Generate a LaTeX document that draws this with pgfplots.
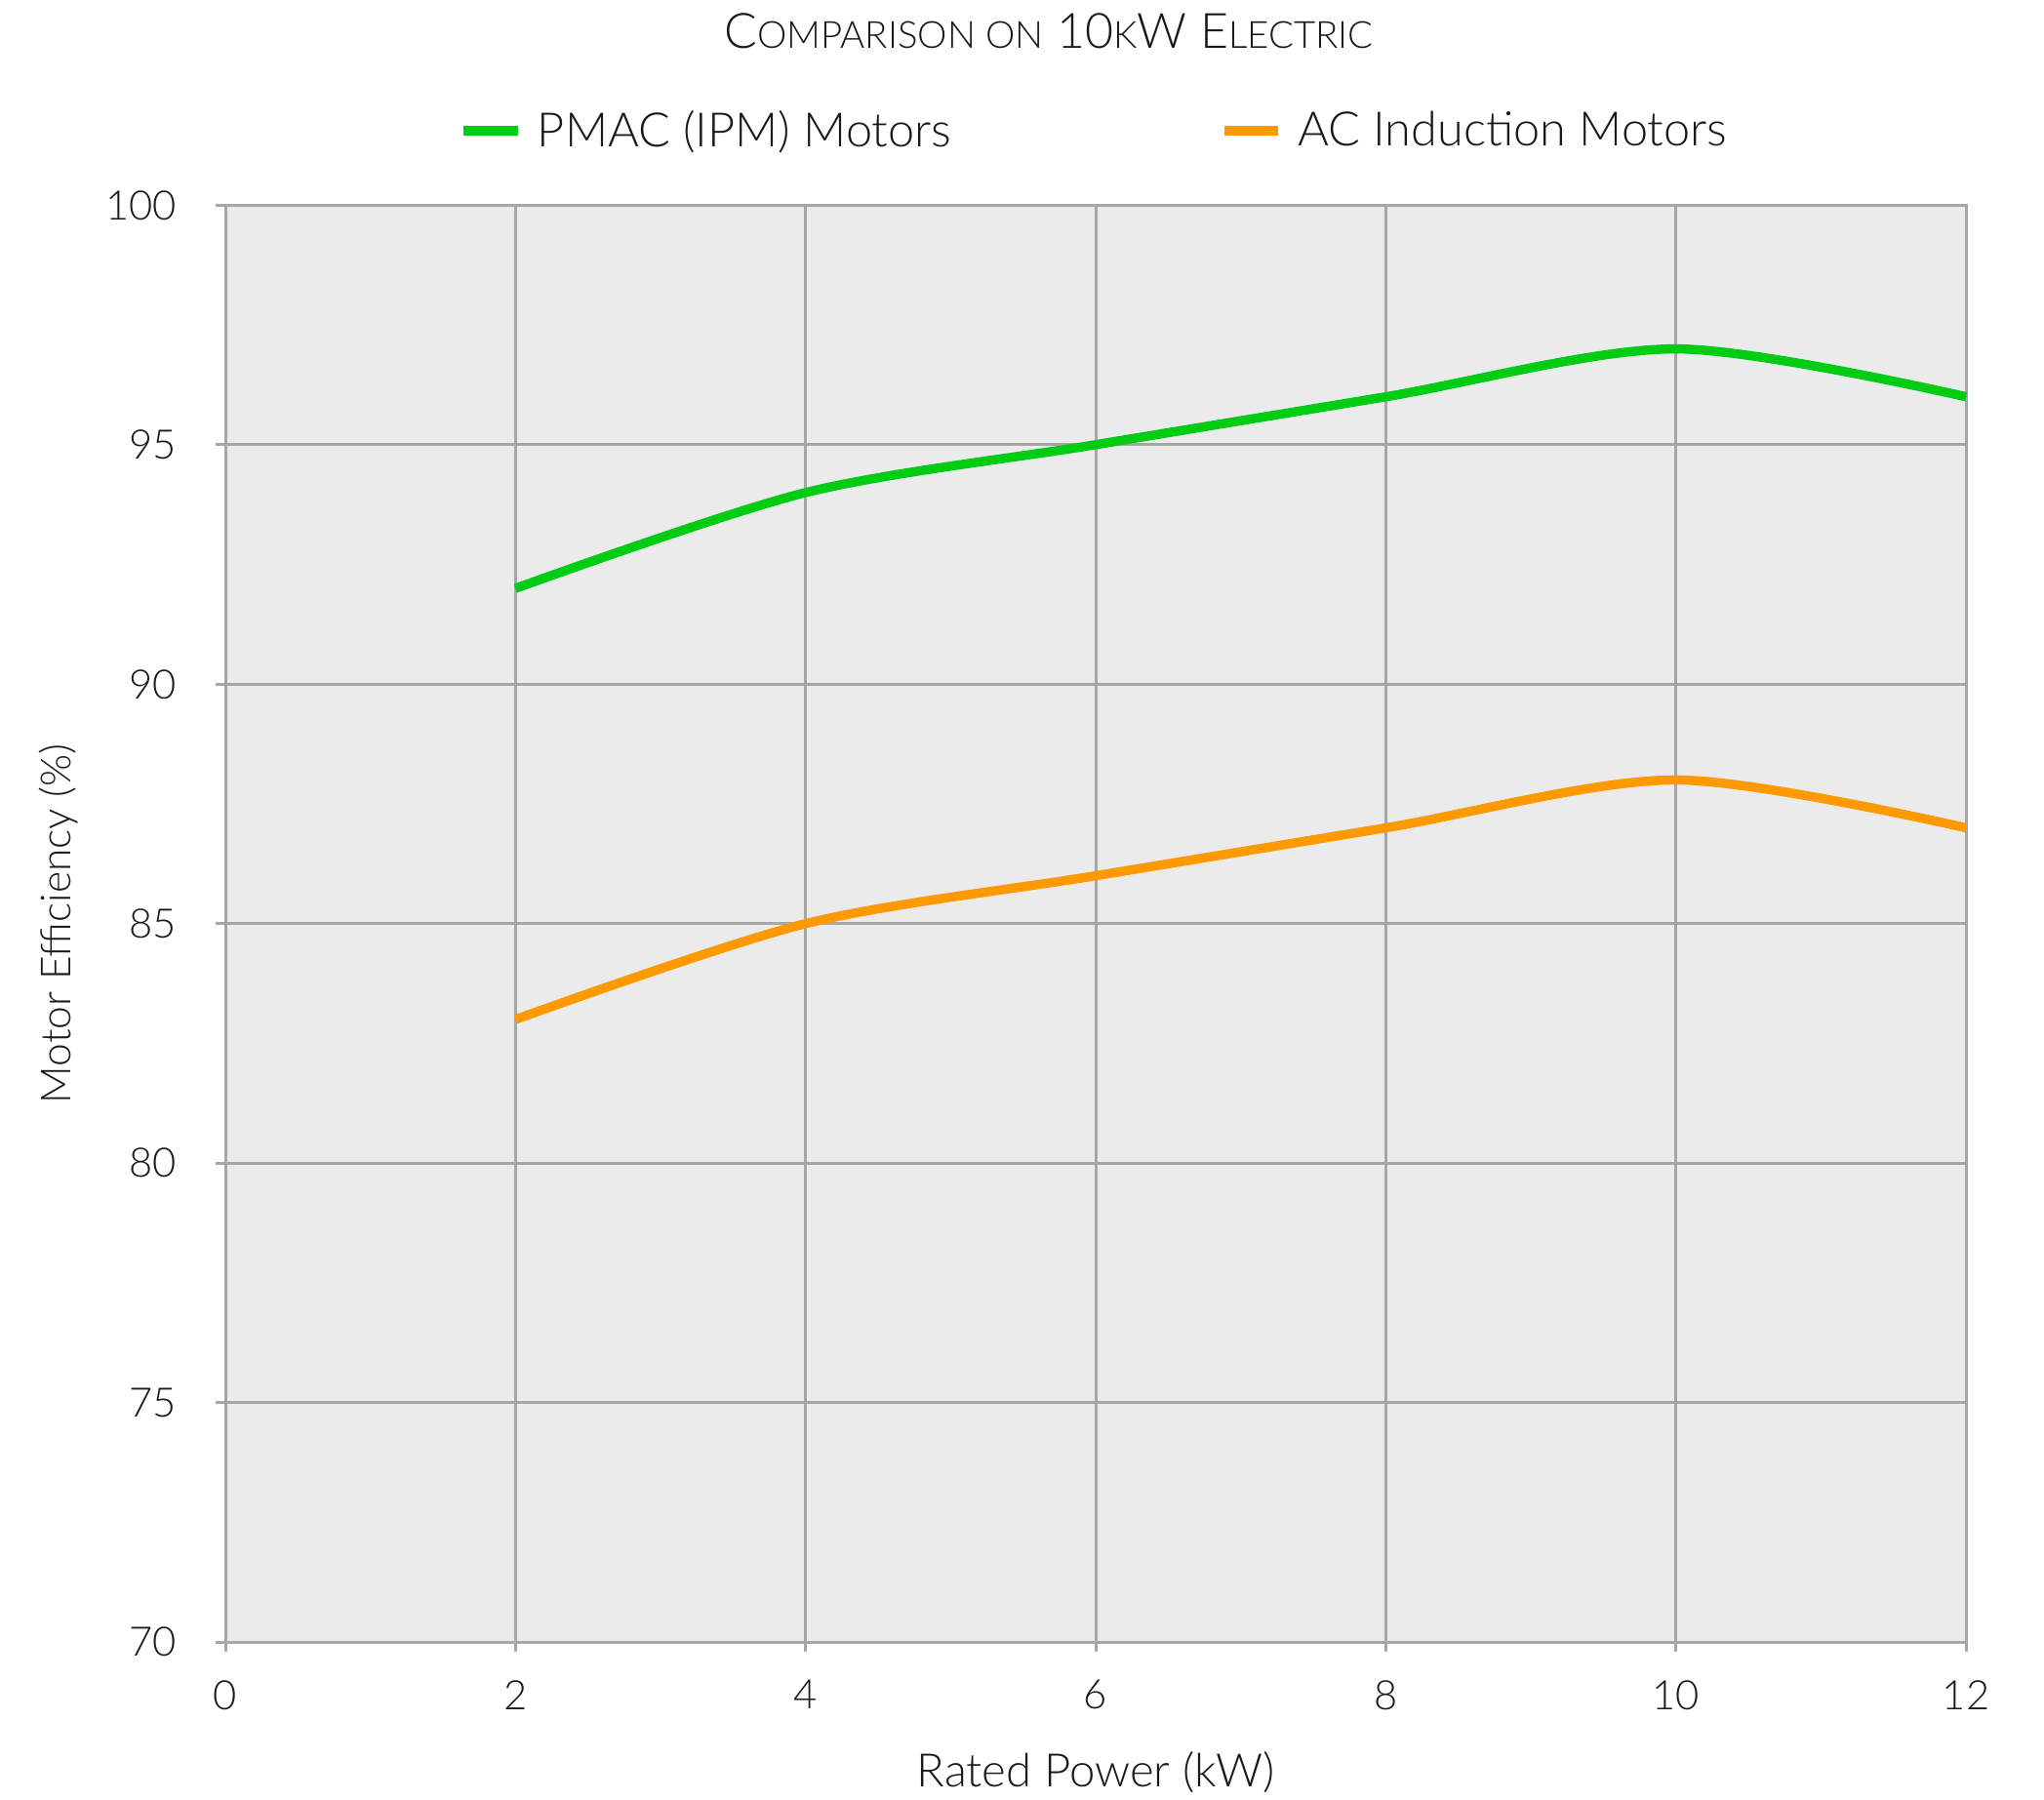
\documentclass[border=0pt]{standalone}
\usepackage{fontspec}
\setmainfont{Lato}[UprightFont=* Light]
\usepackage{pgfplots}
\pgfplotsset{compat=1.18}
\definecolor{pmac}{RGB}{0,204,20}
\definecolor{acind}{RGB}{255,153,0}
\definecolor{gridgray}{RGB}{166,166,166}
\definecolor{bggray}{RGB}{235,235,235}
\begin{document}
\begin{tikzpicture}
\begin{axis}[
  scale only axis,
  width=642pt, height=530pt,
  xmin=0, xmax=12, ymin=70, ymax=100,
  xtick={0,2,...,12}, ytick={70,75,...,100},
  xtick pos=bottom, ytick pos=left,
  axis background/.style={fill=bggray},
  axis line style={gridgray, line width=1.1pt},
  grid=major,
  major grid style={gridgray, line width=1.1pt},
  tick style={gridgray, line width=1.1pt},
  tick align=outside, major tick length=3.6pt,
  x tick label style={yshift=-7pt},
  y tick label style={xshift=-11pt},
  /pgf/number format/assume math mode=true,
  ticklabel style={font=\fontsize{15}{18}\selectfont, text=black!90},
  xlabel={Rated Power (kW)},
  ylabel={Motor Efficiency (\%)},
  xlabel style={at={(rel axis cs:0.5,-0.0904)}, anchor=center,
    font=\fontsize{17}{20}\selectfont, text=black!90},
  ylabel style={at={(rel axis cs:-0.0959,0.5)}, anchor=center,
    font=\fontsize{15.3}{18}\selectfont, text=black!90},
  title={\fontsize{18}{20}\selectfont C{\fontsize{13.8}{16}\selectfont OMPARISON ON} 10{\fontsize{13.8}{16}\selectfont K}W E{\fontsize{13.8}{16}\selectfont LECTRIC}},
  title style={at={(rel axis cs:0.473,1.11)}, anchor=center, text=black!90},
  legend columns=2,
  legend style={at={(rel axis cs:0.5,1.0517)}, anchor=center, draw=none, fill=none,
    font=\fontsize{17.5}{20}\selectfont, text=black!90,
    /tikz/every odd column/.append style={column sep=3.5pt},
    /tikz/every even column/.append style={column sep=97pt}},
  legend image code/.code={\draw[line width=3.4pt] (0pt,0pt) -- (20pt,0pt);},
  clip=false,
]
\addplot[pmac, line width=3.4pt, smooth] coordinates {
  (2,92) (4,94) (6,95) (8,96) (10,97) (12,96)
};
\addlegendentry{PMAC (IPM) Motors}
\addplot[acind, line width=3.4pt, smooth] coordinates {
  (2,83) (4,85) (6,86) (8,87) (10,88) (12,87)
};
\addlegendentry{AC Induction Motors}
\coordinate (bl) at (rel axis cs:-0.1295,-0.1095);
\coordinate (tr) at (rel axis cs:1.0448,1.1428);
\end{axis}
\pgfresetboundingbox
\path (bl) rectangle (tr);
\end{tikzpicture}
\end{document}
